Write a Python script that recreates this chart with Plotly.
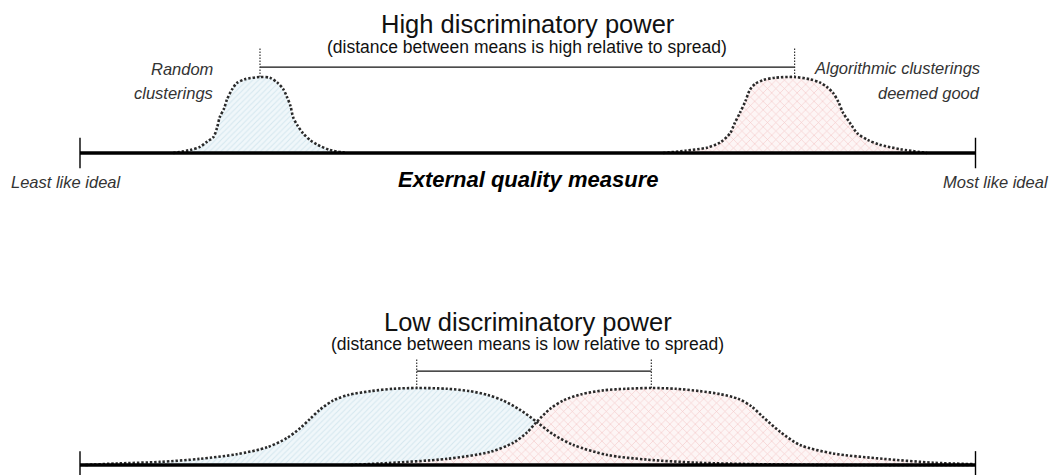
import plotly.graph_objects as go

# ---------------- data (quality measure 0..100, relative density 0..1) ----------------
top_blue_x = [10.4, 12.3, 13.4, 14.2, 14.9, 15.3, 15.6, 16.1, 16.4, 17.0, 17.5, 18.4, 20.1,
              21.2, 22.0, 22.7, 23.1, 23.5, 23.8, 24.3, 24.9, 25.7, 26.5, 27.9, 29.8]
top_blue_y = [0.00, 0.04, 0.08, 0.15, 0.21, 0.33, 0.47, 0.59, 0.70, 0.84, 0.92, 0.97, 1.00,
              0.99, 0.93, 0.84, 0.74, 0.62, 0.47, 0.36, 0.26, 0.17, 0.11, 0.04, 0.00]

top_red_x = [65.1, 67.6, 70.0, 71.5, 72.6, 73.1, 73.7, 74.3, 74.8, 75.4, 76.3, 77.6, 79.8,
             81.5, 82.6, 83.4, 84.1, 84.7, 85.2, 85.9, 86.8, 88.0, 89.3, 91.6, 94.6]
top_red_y = [0.00, 0.03, 0.07, 0.14, 0.26, 0.39, 0.53, 0.68, 0.83, 0.91, 0.96, 0.99, 1.00,
             0.97, 0.93, 0.87, 0.79, 0.67, 0.53, 0.41, 0.26, 0.17, 0.11, 0.05, 0.00]

bot_blue_x = [0.6, 4.1, 8.9, 13.4, 17.5, 20.9, 23.1, 24.6, 25.7, 26.8, 28.3, 30.0, 32.5, 35.0,
              37.6, 41.0, 43.5, 45.5, 47.2, 49.1, 51.0, 52.8, 55.1, 58.9, 63.3, 68.9, 75.9,
              84.9, 99.9]
bot_blue_y = [0.00, 0.02, 0.04, 0.08, 0.14, 0.23, 0.35, 0.48, 0.60, 0.72, 0.84, 0.91, 0.96, 0.99,
              1.00, 0.99, 0.96, 0.91, 0.84, 0.72, 0.56, 0.40, 0.26, 0.13, 0.07, 0.03, 0.01,
              0.00, 0.00]

bot_red_x = [30.2, 33.5, 41.0, 45.8, 48.4, 49.9, 51.0, 52.5, 54.0, 56.0, 58.5, 61.0, 63.8,
             66.5, 69.2, 71.5, 73.5, 75.0, 76.3, 78.2, 80.4, 84.1, 89.7, 95.3, 99.9]
bot_red_y = [0.00, 0.02, 0.08, 0.17, 0.29, 0.42, 0.56, 0.73, 0.84, 0.92, 0.97, 0.99, 1.00,
             0.99, 0.96, 0.92, 0.86, 0.76, 0.62, 0.43, 0.26, 0.15, 0.08, 0.03, 0.01]

# means of the two distributions in each panel
top_means = [20.1, 79.8]
bot_means = [37.6, 63.8]

axis_ends = [0, 100]

# ---------------- geometry ----------------
# The page body has an 8px margin, so the figure is laid out 8px smaller and
# every target screen position is shifted by that offset.
OFF = 8
W, H = 1057 - OFF, 475 - OFF
FONT = "Arial, Liberation Sans, sans-serif"
DOT = "#2a2a2a"

X0_PX = 80            # screen x of quality 0
PX_PER_UNIT = (975.5 - 80) / 100.0
TOP_BASE, TOP_PEAK = 153, 77     # screen y of density 0 / 1, top panel
BOT_BASE, BOT_PEAK = 465, 388    # screen y of density 0 / 1, bottom panel
SPLIT = 237.5                    # screen y dividing the two panels

fig = go.Figure()


def fill_trace(x, y, yaxis, shape, fg, bg, size, solidity):
    fig.add_trace(go.Scatter(
        x=x, y=y, yaxis=yaxis, mode="lines", line=dict(width=0, shape="spline", smoothing=0.8),
        fill="tozeroy", fillcolor="rgba(0,0,0,0)",
        fillpattern=dict(shape=shape, fgcolor=fg, bgcolor=bg, size=size, solidity=solidity),
        hoverinfo="skip", showlegend=False))


def dotted_curve(x, y, yaxis):
    fig.add_trace(go.Scatter(
        x=x, y=y, yaxis=yaxis, mode="lines",
        line=dict(color=DOT, width=2.6, dash="2.4px,1.9px", shape="spline", smoothing=0.8),
        hoverinfo="skip", showlegend=False))


BLUE_FG, BLUE_BG = "#bcd8e4", "#f0f7fa"
RED_FG, RED_BG = "#e89c9c", "#fdf5f5"

fill_trace(top_blue_x, top_blue_y, "y", "/", BLUE_FG, BLUE_BG, 4, 0.28)
fill_trace(top_red_x, top_red_y, "y", "x", RED_FG, RED_BG, 6, 0.2)
fill_trace(bot_blue_x, bot_blue_y, "y2", "/", BLUE_FG, BLUE_BG, 4, 0.28)
fill_trace(bot_red_x, bot_red_y, "y2", "x", RED_FG, RED_BG, 6, 0.2)

dotted_curve(top_blue_x, top_blue_y, "y")
dotted_curve(top_red_x, top_red_y, "y")
dotted_curve(bot_blue_x, bot_blue_y, "y2")
dotted_curve(bot_red_x, bot_red_y, "y2")

# baselines and end ticks
for ya, tick_lo, tick_hi in [("y", -0.2, 0.2), ("y2", -0.2, 0.18)]:
    fig.add_trace(go.Scatter(x=axis_ends, y=[0, 0], yaxis=ya, mode="lines",
                             line=dict(color="#000", width=3.4), hoverinfo="skip", showlegend=False))
    for xe in axis_ends:
        fig.add_trace(go.Scatter(x=[xe, xe], y=[tick_lo, tick_hi], yaxis=ya, mode="lines",
                                 line=dict(color="#000", width=1.4), hoverinfo="skip", showlegend=False))

# mean markers (dotted verticals + solid connector)
for ya, means, y_line, y_top in [("y", top_means, 1.13, 1.38), ("y2", bot_means, 1.22, 1.39)]:
    fig.add_trace(go.Scatter(x=means, y=[y_line, y_line], yaxis=ya, mode="lines",
                             line=dict(color="#111", width=1.3), hoverinfo="skip", showlegend=False))
    for m in means:
        fig.add_trace(go.Scatter(x=[m, m], y=[1.0, y_top], yaxis=ya, mode="lines",
                                 line=dict(color="#333", width=1.2, dash="1.5px,1.5px"),
                                 hoverinfo="skip", showlegend=False))


# ---------------- text ----------------
def note(text, xpx, ypx, size, xanchor="center", italic=False, bold=False, color="#111"):
    t = text
    if bold:
        t = "<b>" + t + "</b>"
    if italic:
        t = "<i>" + t + "</i>"
    fig.add_annotation(text=t, x=(xpx - OFF) / W, y=1 - (ypx - OFF) / H, xref="paper", yref="paper",
                       xanchor=xanchor, yanchor="middle", showarrow=False,
                       font=dict(family=FONT, size=size, color=color))


note("High discriminatory power", 528, 24, 25.5)
note("(distance between means is high relative to spread)", 527, 47, 17.5)
note("Random", 215, 69, 16.5, xanchor="right", italic=True, color="#333")
note("clusterings", 215, 93, 16.5, xanchor="right", italic=True, color="#333")
note("Algorithmic clusterings", 982, 68, 16.5, xanchor="right", italic=True, color="#333")
note("deemed good", 982, 93, 16.5, xanchor="right", italic=True, color="#333")
note("Least like ideal", 9, 182, 16.5, xanchor="left", italic=True, color="#333")
note("Most like ideal", 1051, 182, 16.5, xanchor="right", italic=True, color="#333")
note("External quality measure", 528, 179, 22, italic=True, bold=True, color="#000")

note("Low discriminatory power", 528, 322, 25.5)
note("(distance between means is low relative to spread)", 527, 344, 17.5)

# ---------------- layout ----------------
split_frac = 1 - (SPLIT - OFF) / H
top_ppu = TOP_BASE - TOP_PEAK
bot_ppu = BOT_BASE - BOT_PEAK
fig.update_layout(
    width=W, height=H,
    margin=dict(l=0, r=0, t=0, b=0),
    paper_bgcolor="white", plot_bgcolor="white",
    showlegend=False,
    xaxis=dict(range=[(OFF - X0_PX) / PX_PER_UNIT, (1057 - X0_PX) / PX_PER_UNIT],
               visible=False, fixedrange=True),
    yaxis=dict(domain=[split_frac, 1.0],
               range=[(TOP_BASE - SPLIT) / top_ppu, (TOP_BASE - OFF) / top_ppu],
               visible=False, fixedrange=True),
    yaxis2=dict(domain=[0.0, split_frac],
                range=[(BOT_BASE - 475) / bot_ppu, (BOT_BASE - SPLIT) / bot_ppu],
                visible=False, fixedrange=True),
)

fig.write_html("out.html")
